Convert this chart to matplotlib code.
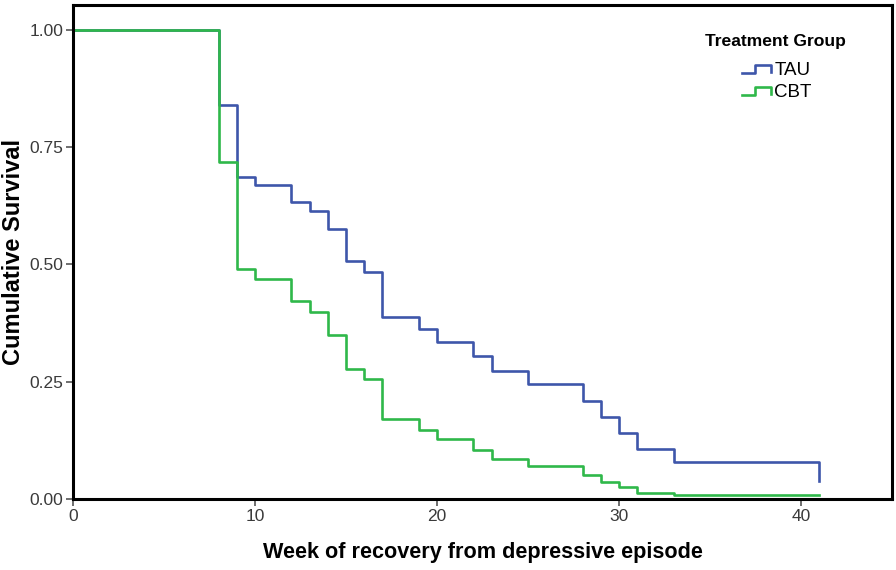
import matplotlib
matplotlib.use('Agg')
import matplotlib.pyplot as plt
from matplotlib.lines import Line2D
from matplotlib.legend_handler import HandlerBase

# Kaplan-Meier steps
tau_weeks = [0, 8, 9, 10, 12, 13, 14, 15, 16, 17, 19, 20, 22, 23, 25, 28, 29, 30, 31, 33, 41]
tau_surv = [1.00, 0.84, 0.687, 0.67, 0.633, 0.614, 0.576, 0.507, 0.484, 0.388, 0.362,
            0.335, 0.305, 0.273, 0.245, 0.209, 0.175, 0.14, 0.107, 0.079, 0.038]

cbt_weeks = [0, 8, 9, 10, 12, 13, 14, 15, 16, 17, 19, 20, 22, 23, 25, 28, 29, 30, 31, 33, 41]
cbt_surv = [1.00, 0.718, 0.49, 0.469, 0.422, 0.399, 0.35, 0.277, 0.256, 0.17, 0.147,
            0.128, 0.105, 0.085, 0.07, 0.051, 0.036, 0.026, 0.013, 0.009, 0.009]

x_ticks = [0, 10, 20, 30, 40]
y_ticks = [0.0, 0.25, 0.5, 0.75, 1.0]

tau_color = '#3e56aa'
cbt_color = '#2fb84a'
plt.rcParams['font.family'] = ['Liberation Sans', 'DejaVu Sans']


class StepHandler(HandlerBase):
    # little step icon like the SPSS legend
    def create_artists(self, legend, orig_handle, xdescent, ydescent,
                       width, height, fontsize, trans):
        x0 = -xdescent
        y0 = -ydescent
        xs = [x0, x0 + 0.45 * width, x0 + 0.45 * width, x0 + width, x0 + width]
        ys = [y0 + 0.1 * height, y0 + 0.1 * height, y0 + 0.8 * height,
              y0 + 0.8 * height, y0 + 0.2 * height]
        line = Line2D(xs, ys, color=orig_handle.get_color(),
                      lw=orig_handle.get_linewidth(), transform=trans)
        return [line]


fig = plt.figure(figsize=(8.96, 5.7), dpi=100)
ax = fig.add_axes([73 / 896, 1 - 499 / 570, (892 - 73) / 896, (499 - 5) / 570])

l_tau, = ax.step(tau_weeks, tau_surv, where='post', color=tau_color, lw=1.9, label='TAU')
l_cbt, = ax.step(cbt_weeks, cbt_surv, where='post', color=cbt_color, lw=1.9, label='CBT')

ax.set_xlim(0, 45)
ax.set_ylim(0, 1.053)
ax.set_xticks(x_ticks)
ax.set_yticks(y_ticks)
ax.set_yticklabels(['%.2f' % v for v in y_ticks])

for s in ax.spines.values():
    s.set_linewidth(2.2)
    s.set_color('black')

ax.tick_params(direction='out', length=5, width=1.2, color='#555555',
               labelcolor='#3a3a3a', labelsize=12.5, pad=2)

ax.set_xlabel('Week of recovery from depressive episode', fontsize=15.6,
              fontweight='bold', labelpad=13)
ax.set_ylabel('Cumulative Survival', fontsize=17, fontweight='bold', labelpad=3)

# legend title drawn on its own so the gap to the entries matches
ax.text(0.858, 0.927, 'Treatment Group', transform=ax.transAxes, ha='center',
        va='center', fontsize=12.6, fontweight='bold')
leg = ax.legend(handles=[l_tau, l_cbt], loc='upper left',
                bbox_to_anchor=((742 - 73) / 819, (499 - 62) / 494),
                frameon=False, fontsize=13.5, borderpad=0, borderaxespad=0,
                handler_map={Line2D: StepHandler()}, handlelength=1.55,
                handleheight=0.6, handletextpad=0.17, labelspacing=0.27)

plt.savefig('out.png', dpi=100)
plt.close()
